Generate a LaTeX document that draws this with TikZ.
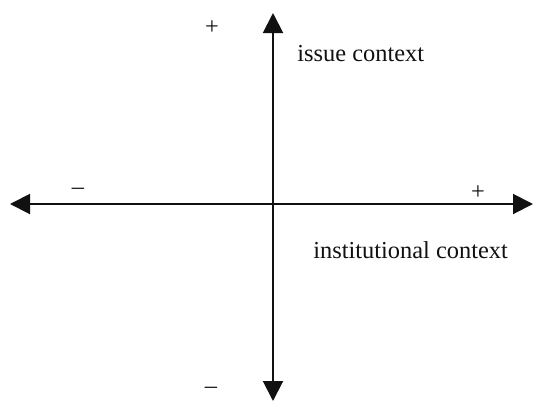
\documentclass[tikz,border=0pt]{standalone}
\usepackage{fontspec}
\setmainfont{Liberation Serif}
\usetikzlibrary{arrows.meta, positioning}

\begin{document}
\begin{tikzpicture}[
    x=0.5pt, y=-0.5pt,
    every node/.style={font=\fontsize{12.2}{14}\selectfont, inner sep=0pt},
]

\definecolor{inkcolor}{HTML}{111111}

% ================================================================
%  Two crossing axes, units in reference pixels (y runs down).
%  horizontal axis at y = 204, tips at x = 10 and x = 533
%  vertical axis at x = 273, tips at y = 13 and y = 401
%  signs sit near the tips, axis names beside them
% ================================================================

\tikzset{
  axis/.style={draw=inkcolor, line width=1pt,
               {Triangle[length=10pt, width=10pt]}-{Triangle[length=10pt, width=10pt]}},
  sign/.style={text=inkcolor},
  axisname/.style={text=inkcolor, anchor=base west},
}

\useasboundingbox (0, 0) rectangle (535, 403);

% ---------------------------------------------------------------- ends
\coordinate (west)  at (10, 204);
\coordinate (east)  at (533, 204);
\coordinate (north) at (273, 13);
\coordinate (south) at (273, 401);

% ---------------------------------------------------------------- axes
\draw[axis] (west) -- (east);
\draw[axis] (south) -- (north);

% ---------------------------------------------------------------- signs
\node[sign] (plustop)    at (212, 28)  {+};
\node[sign] (minusleft)  at (78, 191)  {–};
\node[sign] (plusright)  at (478, 193) {+};
\node[sign] (minusbot)   at (211, 390) {–};

% ---------------------------------------------------------------- names
\node[axisname] (issue) at (297, 61)  {issue context};
\node[axisname] (inst)  at (313, 258) {institutional context};

\end{tikzpicture}
\end{document}
